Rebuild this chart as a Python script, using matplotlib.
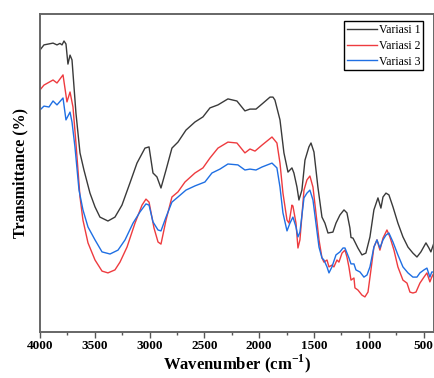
import matplotlib
matplotlib.use('Agg')
import matplotlib.pyplot as plt
from matplotlib.ticker import MultipleLocator

plt.rcParams['font.family'] = ['Liberation Serif', 'DejaVu Serif']
plt.rcParams['mathtext.fontset'] = 'custom'
plt.rcParams['mathtext.rm'] = 'Liberation Serif'
plt.rcParams['mathtext.bf'] = 'Liberation Serif:bold'

# FTIR spectra (wavenumber in cm-1, transmittance in arbitrary %)
wn1 = [4000, 3964, 3881, 3845, 3818, 3799, 3781, 3763, 3745, 3726, 3708, 3672, 3635, 3599,
       3544, 3498, 3453, 3380, 3316, 3252, 3179, 3115, 3042, 3005, 2969, 2933, 2896, 2850,
       2796, 2741, 2668, 2586, 2513, 2449, 2376, 2285, 2203, 2130, 2084, 2029, 1974, 1901,
       1874, 1856, 1810, 1774, 1737, 1701, 1683, 1655, 1637, 1610, 1582, 1546, 1527, 1500,
       1464, 1427, 1400, 1372, 1327, 1299, 1263, 1226, 1199, 1172, 1162, 1144, 1126, 1099,
       1062, 1026, 989, 953, 916, 889, 870, 843, 816, 779, 734, 688, 642, 597, 560, 524,
       478, 451, 433, 405]
t1 = [94.0, 95.7, 96.3, 95.7, 96.2, 95.7, 97.0, 96.0, 89.3, 92.3, 90.7, 73.0, 59.7, 54.0,
      46.3, 41.7, 38.3, 37.0, 38.3, 42.3, 49.7, 56.3, 61.3, 61.7, 53.0, 51.7, 48.0, 54.0,
      61.3, 63.3, 67.3, 70.0, 71.7, 74.7, 75.7, 77.7, 77.0, 73.7, 74.3, 74.3, 76.0, 78.3,
      78.3, 77.3, 70.7, 59.7, 53.3, 54.7, 53.0, 48.3, 44.0, 47.3, 57.3, 61.7, 63.0, 60.0,
      48.3, 38.3, 36.3, 33.0, 33.3, 36.3, 39.0, 40.7, 39.7, 34.7, 31.5, 31.3, 30.0, 28.0,
      25.7, 26.3, 31.7, 40.7, 44.7, 41.3, 45.0, 46.3, 45.7, 41.7, 36.3, 31.7, 28.3, 26.3,
      25.0, 26.7, 29.7, 28.0, 26.7, 29.7]

wn2 = [4000, 3964, 3881, 3845, 3790, 3754, 3726, 3699, 3672, 3635, 3608, 3562, 3498, 3434,
       3380, 3316, 3270, 3206, 3133, 3069, 3033, 3005, 2960, 2923, 2896, 2850, 2796, 2741,
       2677, 2586, 2513, 2449, 2376, 2285, 2203, 2130, 2084, 2038, 1974, 1883, 1838, 1810,
       1783, 1746, 1728, 1701, 1692, 1664, 1646, 1628, 1591, 1564, 1537, 1509, 1482, 1454,
       1427, 1409, 1381, 1363, 1336, 1318, 1290, 1272, 1244, 1217, 1199, 1181, 1162, 1135,
       1126, 1099, 1062, 1035, 1007, 980, 953, 925, 898, 870, 834, 807, 770, 734, 688, 651,
       624, 597, 569, 533, 496, 469, 442, 425, 405]
t2 = [80.7, 82.3, 84.0, 83.0, 85.7, 76.7, 80.0, 75.0, 63.0, 45.0, 37.3, 29.7, 24.0, 20.3,
      19.7, 20.7, 23.3, 28.3, 36.3, 42.3, 44.3, 43.3, 34.7, 30.0, 29.3, 37.3, 45.0, 46.7,
      50.0, 53.0, 54.7, 58.0, 61.3, 63.3, 63.0, 59.7, 61.0, 60.3, 62.3, 65.0, 63.0, 56.3,
      46.3, 37.3, 36.3, 42.3, 42.0, 36.3, 28.0, 30.7, 47.3, 50.7, 52.0, 48.3, 39.7, 30.7,
      24.7, 23.3, 24.0, 21.7, 22.3, 21.7, 24.0, 23.3, 26.3, 27.3, 25.0, 21.7, 17.3, 18.0,
      14.7, 14.0, 12.3, 11.7, 13.3, 20.7, 28.3, 30.7, 27.3, 31.3, 34.0, 31.7, 27.3, 21.7,
      17.3, 16.3, 13.3, 13.0, 13.3, 16.3, 18.3, 19.7, 16.7, 18.3, 19.7]

wn3 = [4000, 3964, 3918, 3881, 3845, 3790, 3763, 3726, 3708, 3681, 3644, 3608, 3562, 3498,
       3434, 3361, 3288, 3224, 3151, 3088, 3033, 3005, 2969, 2923, 2896, 2850, 2796, 2741,
       2668, 2586, 2495, 2431, 2358, 2285, 2194, 2130, 2084, 2029, 1974, 1883, 1838, 1810,
       1783, 1746, 1719, 1692, 1664, 1646, 1628, 1591, 1564, 1537, 1509, 1482, 1454, 1427,
       1409, 1381, 1363, 1336, 1299, 1263, 1235, 1217, 1181, 1162, 1135, 1117, 1080, 1044,
       1016, 989, 953, 925, 898, 870, 843, 816, 779, 734, 688, 642, 597, 560, 533, 496, 469,
       442, 425, 405]
t3 = [74.0, 75.3, 75.0, 77.0, 75.7, 78.0, 70.7, 73.3, 70.0, 61.7, 47.3, 40.7, 35.0, 30.7,
      26.7, 26.0, 27.3, 30.7, 36.3, 40.0, 42.7, 42.3, 36.7, 34.0, 33.7, 38.3, 43.3, 45.0,
      47.3, 48.7, 50.0, 53.0, 54.3, 56.0, 55.7, 54.0, 54.3, 54.0, 55.0, 56.3, 54.7, 48.3,
      39.7, 33.7, 36.3, 38.3, 35.0, 31.7, 33.3, 44.7, 46.3, 47.3, 44.0, 36.3, 28.3, 24.7,
      24.0, 21.7, 19.7, 21.7, 25.7, 26.7, 28.0, 28.0, 24.7, 22.7, 22.7, 20.7, 20.0, 18.3,
      19.0, 21.7, 28.3, 30.7, 28.0, 30.7, 32.3, 33.0, 30.0, 25.7, 21.7, 19.7, 18.3, 18.3,
      19.7, 20.7, 21.3, 18.3, 20.0, 20.0]

labels = ['Variasi 1', 'Variasi 2', 'Variasi 3']
colors = ['#3a3a3a', '#ee3b3f', '#1f6fe3']

fig = plt.figure(figsize=(4.35, 3.78), dpi=100)
ax = fig.add_axes([40 / 435, 46 / 378, 394.5 / 435, 318 / 378])

for wn, t, lab, c in zip([wn1, wn2, wn3], [t1, t2, t3], labels, colors):
    ax.plot(wn, t, color=c, lw=1.0, label=lab)

ax.set_xlim(4000, 400)
ax.set_ylim(0, 106)
ax.xaxis.set_major_locator(MultipleLocator(500))
ax.xaxis.set_minor_locator(MultipleLocator(250))
ax.set_yticks([])
ax.tick_params(axis='x', which='major', direction='out', length=4, width=1,
               color='#555555', labelsize=9.5, pad=2)
ax.tick_params(axis='x', which='minor', direction='out', length=2.5, width=1,
               color='#555555')
for lbl in ax.get_xticklabels():
    lbl.set_fontweight('bold')
for sp in ax.spines.values():
    sp.set_color('#666666')
    sp.set_linewidth(1.4)

ax.set_xlabel('Wavenumber (cm$^{\\mathbf{-1}}$)', fontsize=12, fontweight='bold', labelpad=0)
ax.set_ylabel('Transmittance (%)', fontsize=11.5, fontweight='bold', labelpad=8)

leg = ax.legend(loc='upper right', bbox_to_anchor=(1 - 11.5 / 394.5, 1 - 7.5 / 318),
                borderaxespad=0, fancybox=False, edgecolor='black', framealpha=1,
                fontsize=8.5, handlelength=2.5, handletextpad=0.15, labelspacing=0.3,
                borderpad=0.25)
leg.get_frame().set_linewidth(1.0)

fig.savefig('out.png', dpi=100)
